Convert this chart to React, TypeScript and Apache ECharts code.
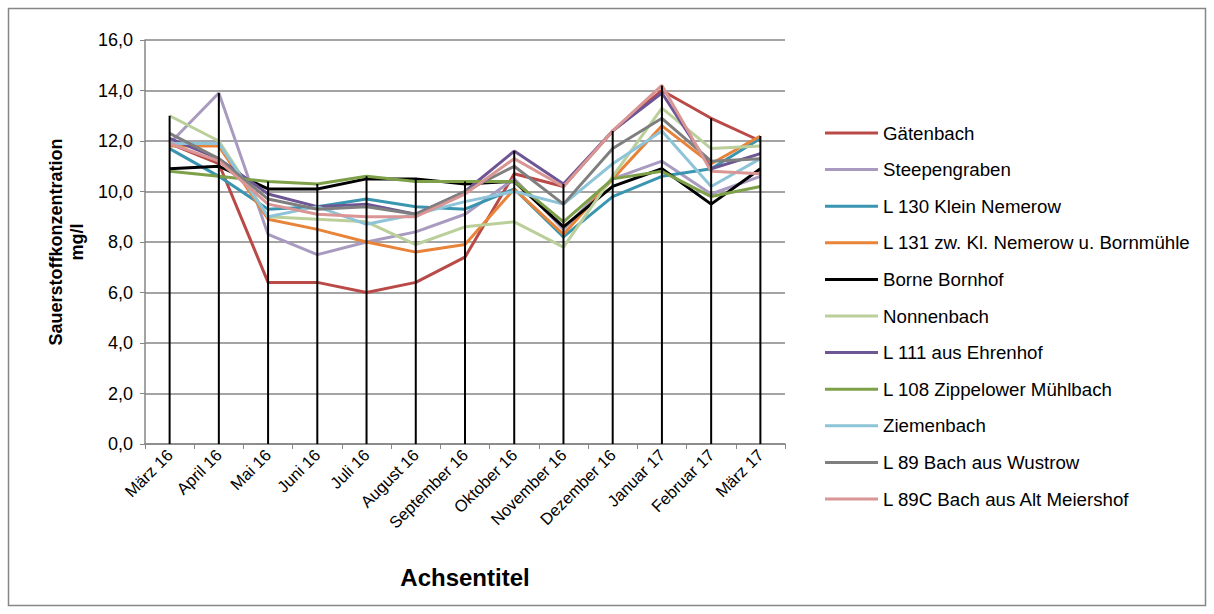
import React, { useEffect, useRef } from "react";
import * as echarts from "echarts";

const categories = [
  "März 16", "April 16", "Mai 16", "Juni 16", "Juli 16", "August 16", "September 16",
  "Oktober 16", "November 16", "Dezember 16", "Januar 17", "Februar 17", "März 17",
];

const seriesNames = [
  "Gätenbach",
  "Steepengraben",
  "L 130 Klein Nemerow",
  "L 131 zw. Kl. Nemerow u. Bornmühle",
  "Borne Bornhof",
  "Nonnenbach",
  "L 111 aus Ehrenhof",
  "L 108 Zippelower Mühlbach",
  "Ziemenbach",
  "L 89 Bach aus Wustrow",
  "L 89C Bach aus Alt Meiershof",
];

const gaetenbach = [11.9, 11.1, 6.4, 6.4, 6.0, 6.4, 7.4, 10.7, 10.2, 12.4, 14.0, 12.9, 12.0];
const steepengraben = [11.9, 13.9, 8.3, 7.5, 8.0, 8.4, 9.1, 10.5, 8.5, 10.5, 11.2, 9.9, 10.6];
const l130 = [11.7, 10.6, 9.3, 9.4, 9.7, 9.4, 9.3, 10.1, 8.2, 9.8, 10.6, 10.9, 12.1];
const l131 = [11.8, 11.8, 8.9, 8.5, 8.0, 7.6, 7.9, 10.1, 8.3, 10.5, 12.6, 11.1, 12.2];
const borneBornhof = [10.9, 11.0, 10.1, 10.1, 10.5, 10.5, 10.3, 10.4, 8.6, 10.2, 10.9, 9.5, 10.9];
const nonnenbach = [13.0, 12.0, 9.0, 8.9, 8.8, 7.9, 8.6, 8.8, 7.8, 10.6, 13.3, 11.7, 11.8];
const l111 = [12.1, 11.3, 9.9, 9.4, 9.5, 9.1, 10.0, 11.6, 10.3, 12.4, 13.9, 10.9, 11.5];
const l108 = [10.8, 10.6, 10.4, 10.3, 10.6, 10.4, 10.4, 10.4, 8.8, 10.5, 10.8, 9.8, 10.2];
const ziemenbach = [11.9, 11.9, 9.0, 9.4, 8.7, 9.1, 9.6, 10.0, 9.5, 11.1, 12.4, 10.2, 11.3];
const l89 = [12.3, 11.3, 9.7, 9.3, 9.4, 9.1, 10.0, 11.0, 9.5, 11.7, 12.9, 11.2, 11.3];
const l89c = [11.9, 11.2, 9.5, 9.1, 9.0, 9.0, 9.9, 11.3, 10.2, 12.4, 14.2, 10.8, 10.7];

const seriesValues = [
  gaetenbach, steepengraben, l130, l131, borneBornhof, nonnenbach,
  l111, l108, ziemenbach, l89, l89c,
];

const colors = [
  "#B94A48", "#A99BC0", "#3A95B0", "#E8843A", "#000000", "#BBCF9A",
  "#6E5594", "#7EA049", "#8EC4D8", "#7F7F7F", "#D99694",
];

const yTicks = [0, 2, 4, 6, 8, 10, 12, 14, 16];

const FONT = '"Liberation Sans", Arial, sans-serif';

export default function App() {
  const ref = useRef<HTMLDivElement>(null);

  useEffect(() => {
    if (!ref.current) return;
    const chart = echarts.init(ref.current, undefined, { renderer: "svg" });

    const dropValues = categories.map((_, i) => Math.max(...seriesValues.map((s) => s[i])));

    const lineSeries = seriesNames.map((name, k) => ({
      name,
      type: "line",
      data: seriesValues[k],
      showSymbol: false,
      symbol: "none",
      lineStyle: { width: 3, color: colors[k] },
      itemStyle: { color: colors[k] },
      z: 2,
    }));

    chart.setOption({
      animation: false,
      backgroundColor: "#ffffff",
      textStyle: { fontFamily: FONT },
      grid: { left: 145, right: 429, top: 40, bottom: 170 },
      legend: {
        data: seriesNames,
        orient: "vertical",
        left: 825,
        top: 122,
        padding: 0,
        icon: "rect",
        itemWidth: 53,
        itemHeight: 3,
        itemGap: 14.6,
        textStyle: { fontSize: 18.7, color: "#000", fontFamily: FONT, lineHeight: 22 },
        selectedMode: false,
      },
      xAxis: {
        type: "category",
        data: categories,
        boundaryGap: true,
        axisLine: { lineStyle: { color: "#868686", width: 1.5 } },
        axisTick: { show: true, length: 5, lineStyle: { color: "#868686" } },
        axisLabel: { rotate: 45, fontSize: 16.5, color: "#000", margin: 8, fontFamily: FONT, interval: 0 },
        splitLine: { show: false },
      },
      yAxis: {
        type: "value",
        min: 0,
        max: 16,
        interval: 2,
        name: "Sauerstoffkonzentration\nmg/l",
        nameLocation: "middle",
        nameRotate: 90,
        nameGap: 56,
        nameTextStyle: { fontSize: 18, fontWeight: "bold", color: "#000", fontFamily: FONT, lineHeight: 21 },
        axisLine: { show: true, lineStyle: { color: "#868686", width: 1.5 } },
        axisTick: { show: true, length: 5, lineStyle: { color: "#868686" } },
        axisLabel: {
          fontSize: 18,
          color: "#000",
          margin: 12,
          fontFamily: FONT,
          formatter: (v: number) => (yTicks.includes(v) ? v.toFixed(1).replace(".", ",") : ""),
        },
        splitLine: { show: true, lineStyle: { color: "#868686", width: 1.5 } },
      },
      graphic: [
        {
          type: "rect",
          shape: { x: 8.5, y: 8.5, width: 1197, height: 597 },
          style: { fill: "none", stroke: "#868686", lineWidth: 1.5 },
          silent: true,
        },
        {
          type: "text",
          x: 465,
          y: 577,
          style: {
            text: "Achsentitel",
            textAlign: "center",
            textVerticalAlign: "middle",
            font: `bold 24px ${FONT}`,
            fill: "#000",
          },
        },
      ],
      series: [
        ...lineSeries,
        {
          name: "drop",
          type: "bar",
          data: dropValues,
          barWidth: 2,
          itemStyle: { color: "#000" },
          silent: true,
          z: 3,
        },
      ],
    });

    return () => chart.dispose();
  }, []);

  return (
    <div
      ref={ref}
      style={{ position: "absolute", left: 0, top: 0, width: 1214, height: 614 }}
    />
  );
}
